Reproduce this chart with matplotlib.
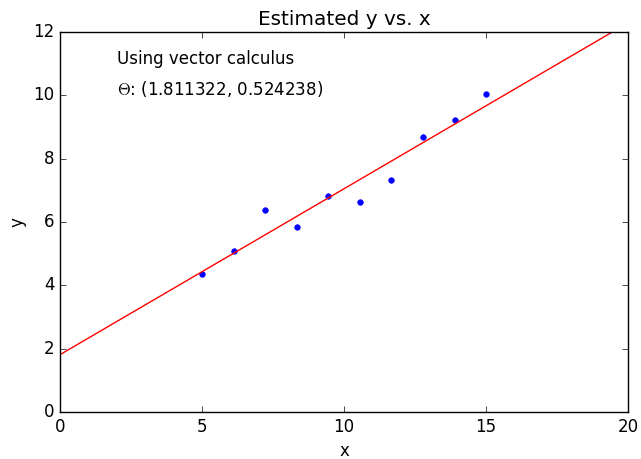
import numpy as np
from matplotlib import pyplot as plt

plt.style.use('classic')

x = np.linspace(5, 15, 10)
y = [4.36, 5.08, 6.38, 5.84, 6.82, 6.63, 7.33, 8.68, 9.22, 10.04]
theta = (1.811322, 0.524238)
xLine = [0, 20]

fig, ax = plt.subplots(figsize=(6.41, 4.59), dpi=100)
fig.patch.set_facecolor('white')
fig.subplots_adjust(left=0.0936, right=0.98, bottom=0.1024, top=0.930)

ax.plot(x, y, 'o', color='b', markeredgecolor='b', markersize=4)
ax.plot(xLine, [theta[0] + theta[1] * v for v in xLine], color='r', linewidth=1)
ax.text(2, 11, 'Using vector calculus')
ax.text(2, 10, r'$\Theta$: (%f, %f)' % theta)
ax.set_xlim(0, 20)
ax.set_ylim(0, 12)
ax.set_xlabel('x')
ax.set_ylabel('y')
ax.set_title('Estimated y vs. x')

fig.savefig('out.png', facecolor='white')
